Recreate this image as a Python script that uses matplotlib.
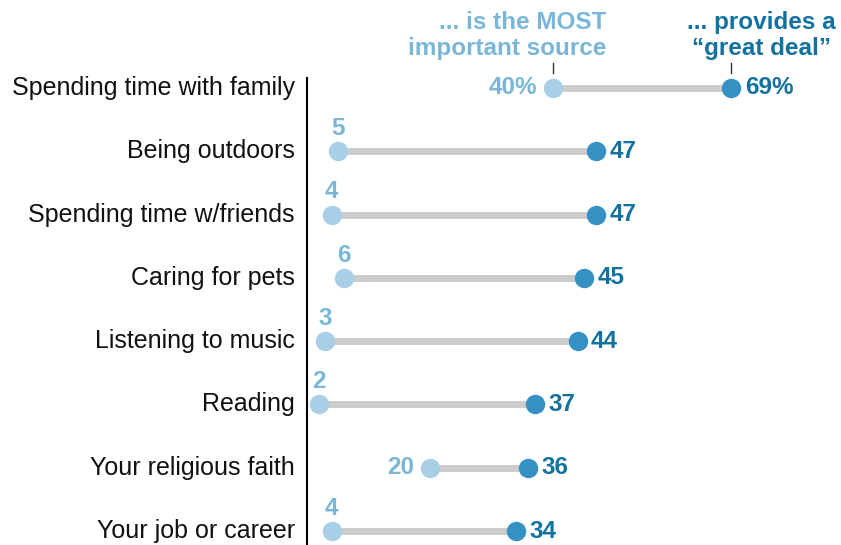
import matplotlib.pyplot as plt

categories = ['Spending time with family', 'Being outdoors', 'Spending time w/friends',
              'Caring for pets', 'Listening to music', 'Reading',
              'Your religious faith', 'Your job or career']
most_important = [40, 5, 4, 6, 3, 2, 20, 4]
great_deal = [69, 47, 47, 45, 44, 37, 36, 34]

light = '#a8cfe5'
light_txt = '#7ab6d8'
dark = '#3591c3'
dark_txt = '#13719f'
grey = '#cccccc'

plt.rcParams['font.family'] = ['Liberation Sans', 'DejaVu Sans']

fig = plt.figure(figsize=(8.41, 5.45), dpi=100)
ax = fig.add_axes([307 / 841, 0, 534 / 841, 1])
ax.set_xlim(0, 534 / 6.149)
ax.set_ylim(7.22, -1.39)
ax.axis('off')

for i, (cat, lo, hi) in enumerate(zip(categories, most_important, great_deal)):
    ax.plot([lo, hi], [i, i], color=grey, lw=5, solid_capstyle='butt', zorder=1)
    ax.plot(lo, i, 'o', ms=14, color=light, mec='none', zorder=2)
    ax.plot(hi, i, 'o', ms=14, color=dark, mec='none', zorder=2)
    ax.text(-2.0, i, cat, ha='right', va='center', fontsize=18, color='#111111')
    if i == 0:
        ax.text(hi + 2.2, i, f'{hi}%', ha='left', va='center', fontsize=17.5,
                fontweight='bold', color=dark_txt)
        ax.text(lo - 2.5, i, f'{lo}%', ha='right', va='center', fontsize=17.5,
                fontweight='bold', color=light_txt)
    else:
        ax.text(hi + 2.2, i, str(hi), ha='left', va='center', fontsize=17.5,
                fontweight='bold', color=dark_txt)
        if lo >= 15:
            ax.text(lo - 2.5, i, str(lo), ha='right', va='center', fontsize=17.5,
                    fontweight='bold', color=light_txt)
        else:
            ax.text(lo, i - 0.36, str(lo), ha='center', va='center', fontsize=17.5,
                    fontweight='bold', color=light_txt)

# left axis line
ax.plot([0, 0], [-0.16, 7.22], color='black', lw=1.5, clip_on=False)

# column headers with small ticks
ax.plot([most_important[0]] * 2, [-0.40, -0.24], color='#333333', lw=1)
ax.plot([great_deal[0]] * 2, [-0.40, -0.24], color='#333333', lw=1)
ax.text(48.7, -0.83, '... is the MOST\nimportant source', ha='right', va='center',
        multialignment='right', fontsize=17.5, fontweight='bold', color=light_txt,
        linespacing=1.2)
ax.text(73.9, -0.83, '... provides a\n\u201cgreat deal\u201d', ha='center', va='center',
        fontsize=17.5, fontweight='bold', color=dark_txt, linespacing=1.2)

fig.savefig('out.png', dpi=100)
